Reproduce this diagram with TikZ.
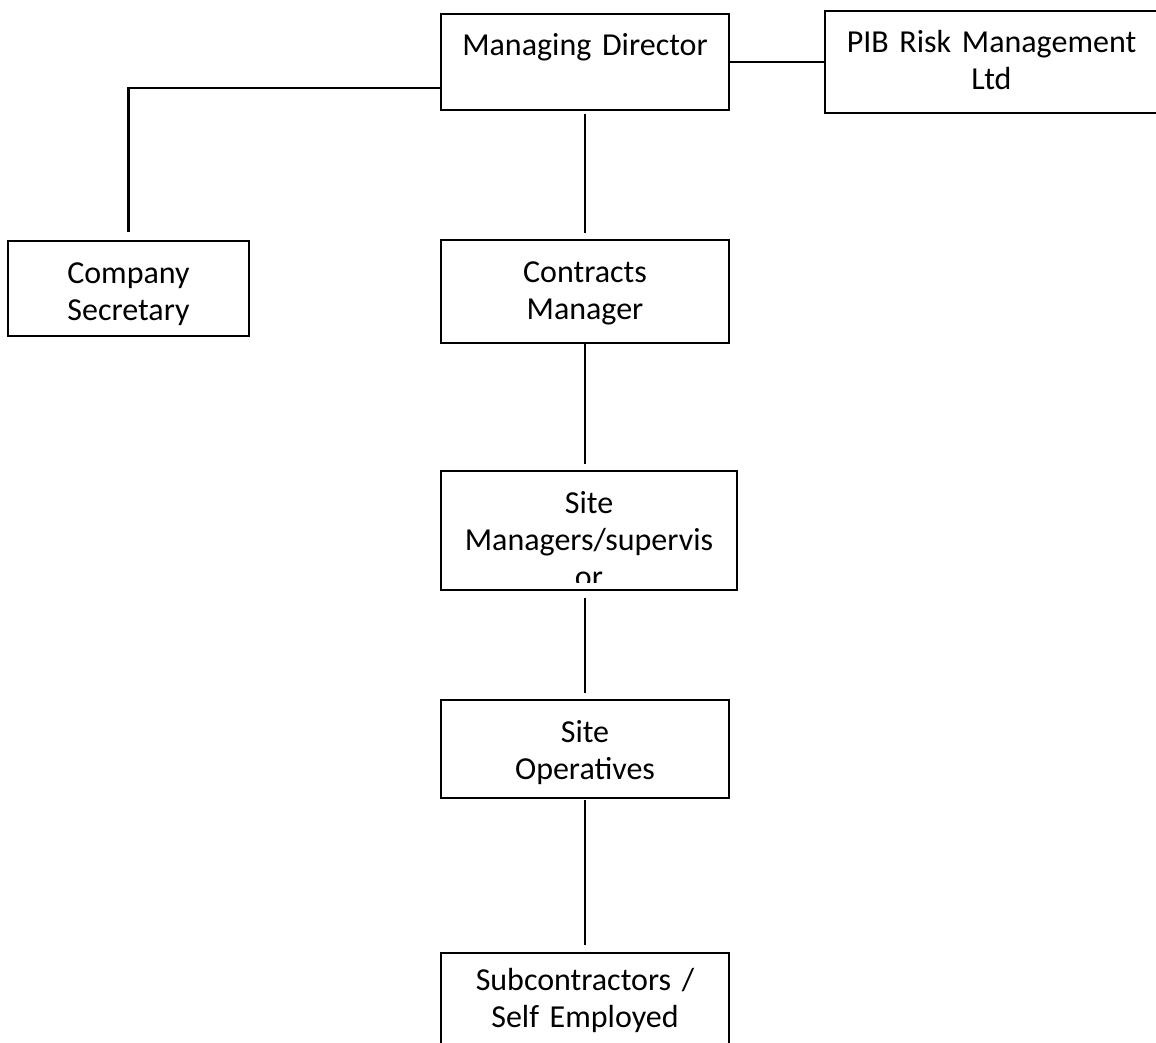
\documentclass[tikz,border=0pt]{standalone}
\usepackage{fontspec}
\setmainfont{Carlito}
\usetikzlibrary{positioning}

\tikzset{
    orgbox/.style = {
        rectangle,
        draw=black,
        line width=2.4pt,
        inner sep=0pt,
        outer sep=0pt,
        align=center,
        text height=42pt,
        font=\fontsize{32pt}{37pt}\selectfont
    },
    link/.style = {
        line width=2.4pt
    }
}

\begin{document}
\begin{tikzpicture}[x=1pt, y=-1pt]

\useasboundingbox (0,0) rectangle (1156,1043);

\node (md) [orgbox, text width=288pt, text depth=54pt] at (585,62) {Managing Director};
\node (pib) [orgbox, text width=333pt, text depth=60pt, right=96pt of md] {PIB Risk Management\\Ltd};
\node (sec) [orgbox, text width=241pt, text depth=53pt] at (128.5,288.5) {Company\\Secretary};
\node (cm) [orgbox, text width=288pt, text depth=61pt, below=130pt of md] {Contracts\\Manager};

% text runs out of the box, cut at the bottom
\begin{scope}
  \clip (430,460) rectangle (750,582);
  \node (sm) [orgbox, draw=none, text width=296pt, text depth=77pt, below=128pt of cm, xshift=4pt] {Site\\Managers/supervis\\or};
\end{scope}
\draw [link] (sm.north west) rectangle (sm.south east);

\node (so) [orgbox, text width=288pt, text depth=56pt, below=110pt of sm, xshift=-4pt] {Site\\Operatives};
\node (sub) [orgbox, text width=288pt, text height=37pt, text depth=73pt, below=155pt of so] {Subcontractors /\\Self Employed};

% Lines
\draw [link] (md.east) -- (pib.west);
\draw [link, shorten >=9pt] ([yshift=-26pt]md.west) -| (sec.north);
\draw [link, shorten <=4pt, shorten >=7pt] (md.south) -- (cm.north);
\draw [link, shorten >=7pt] (cm.south) -- (cm.south |- sm.north);
\draw [link, shorten <=8pt, shorten >=7pt] (sm.south -| so.north) -- (so.north);
\draw [link, shorten <=2pt, shorten >=8pt] (so.south) -- (sub.north);

\end{tikzpicture}
\end{document}
